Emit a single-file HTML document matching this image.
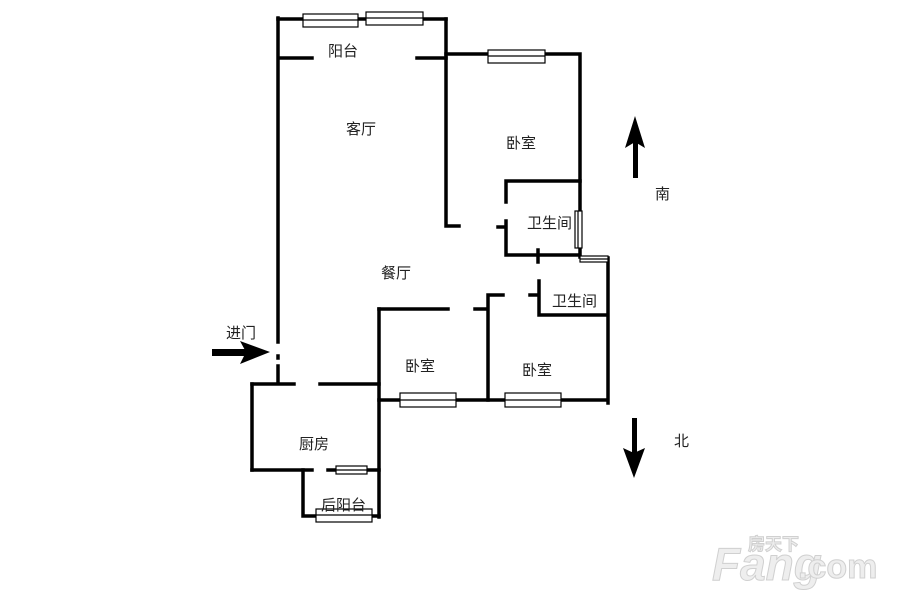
<!DOCTYPE html>
<html><head><meta charset="utf-8"><style>
html,body{margin:0;padding:0;background:#fff;}
svg{display:block}
text{font-family:"Liberation Sans","Noto Sans CJK SC",sans-serif;fill:#222;}
</style></head><body>
<svg width="909" height="600" viewBox="0 0 909 600" xmlns="http://www.w3.org/2000/svg">
<g stroke="#000" stroke-width="3.5" fill="none" stroke-linecap="square">
<path d="M278 18 V342"/>
<path d="M278 19 H446"/>
<path d="M281 58 H312 M417 58 H446"/>
<path d="M446 19 V226 H459"/>
<path d="M446 54 H580 V257"/>
<path d="M506 181 H580 M506 181 V202 M506 221 V255 H579 M498 227 H506"/>
<path d="M538 250 V262"/>
<path d="M608 258 V403"/>
<path d="M539 281 V315 H607 M530 295 H539"/>
<path d="M379 309 H448 M475 309 H488 M488 295 V400 M488 295 H503"/>
<path d="M379 309 V517"/>
<path d="M379 400 H607"/>
<path d="M278 356 V358 M278 366 V382"/>
<path d="M252 384 H294 M320 384 H379"/>
<path d="M252 384 V470"/>
<path d="M252 470 H312 M328 470 H379"/>
<path d="M303 470 V516 H379"/>
</g>
<g stroke="#000" stroke-width="1.2" fill="#fff">
<rect x="303" y="14" width="55" height="13"/><line x1="303" y1="20" x2="358" y2="20"/>
<rect x="366" y="12" width="57" height="13"/><line x1="366" y1="18" x2="423" y2="18"/>
<rect x="488" y="50" width="57" height="13"/><line x1="488" y1="56" x2="545" y2="56"/>
<rect x="575" y="211" width="7" height="37"/><line x1="578" y1="211" x2="578" y2="248"/>
<rect x="580" y="256" width="28" height="6"/><line x1="580" y1="259" x2="608" y2="259"/>
<rect x="400" y="393" width="56" height="14"/><line x1="400" y1="400" x2="456" y2="400"/>
<rect x="505" y="393" width="56" height="14"/><line x1="505" y1="400" x2="561" y2="400"/>
<rect x="336" y="466" width="31" height="8"/><line x1="336" y1="470" x2="367" y2="470"/>
<rect x="316" y="509" width="56" height="13"/><line x1="316" y1="515" x2="372" y2="515"/>
</g>
<g fill="#000">
<rect x="212" y="349" width="38" height="7"/><polygon points="240,341 270,352 240,364 246,352"/>
<rect x="633" y="135" width="5" height="43"/><polygon points="635,116 625,148 635,142 645,148"/>
<rect x="632" y="418" width="5" height="40"/><polygon points="634,478 623,448 634,453 645,448"/>
</g>
<g font-size="15">
<text x="328" y="56">阳台</text>
<text x="346" y="134">客厅</text>
<text x="506" y="148">卧室</text>
<text x="527" y="228">卫生间</text>
<text x="381" y="278">餐厅</text>
<text x="552" y="306">卫生间</text>
<text x="226" y="338">进门</text>
<text x="405" y="371">卧室</text>
<text x="522" y="375">卧室</text>
<text x="299" y="449">厨房</text>
<text x="321" y="510">后阳台</text>
<text x="655" y="199">南</text>
<text x="674" y="446">北</text>
</g>
<g stroke="#d0d0d0" stroke-width="1">
<text x="712" y="580" font-size="46" font-weight="bold" font-style="italic" style="fill:#eee">Fang</text>
<text x="798" y="578" font-size="34" font-weight="bold" style="fill:#eee">.com</text>
<text x="748" y="550" font-size="17" font-weight="bold" style="fill:#eee">房天下</text>
</g>
</svg>
</body></html>
